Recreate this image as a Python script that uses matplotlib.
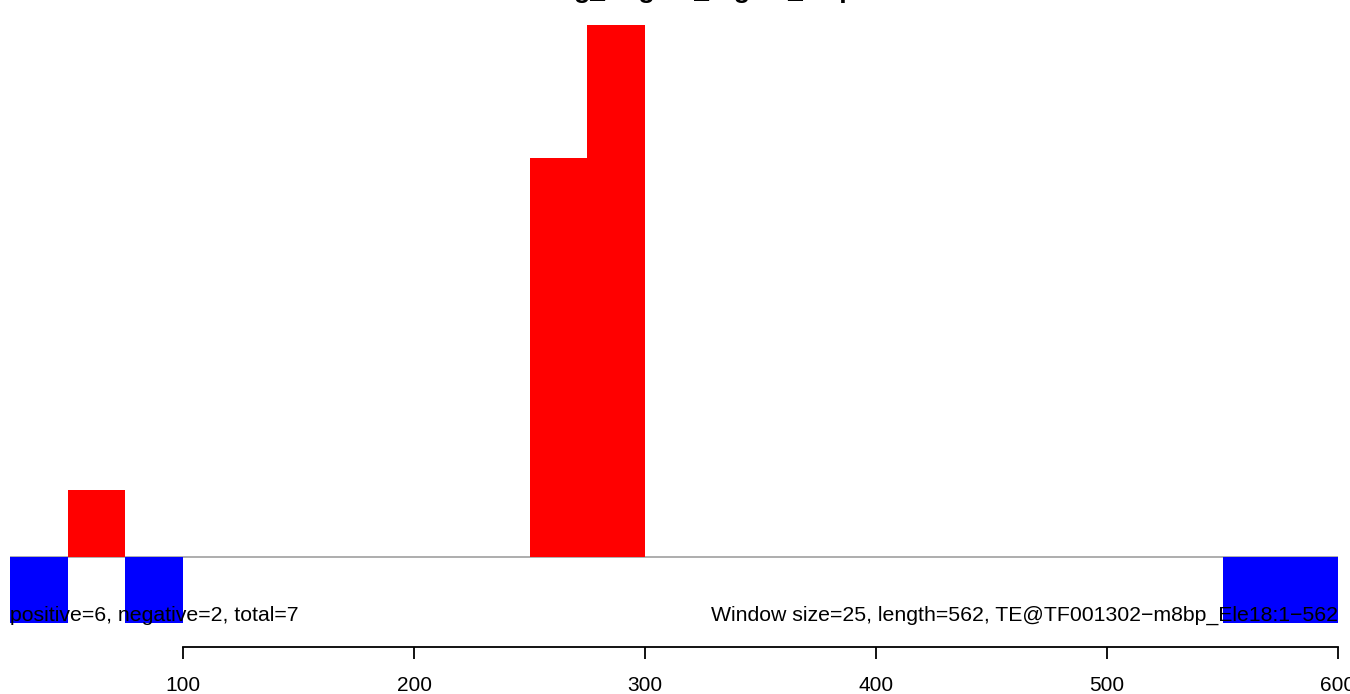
import matplotlib
matplotlib.use("Agg")
import matplotlib.pyplot as plt

plt.rcParams['font.family'] = ['Liberation Sans', 'DejaVu Sans']

window = 25
pos_starts = [50, 250, 275]
pos_values = [1, 6, 8]
neg_starts = [25, 75, 550, 575]
neg_values = [1, 1, 1, 1]
xticks = [100, 200, 300, 400, 500, 600]
title = "Binding_Region_Signal_Map"
left_text = "positive=6, negative=2, total=7"
right_text = "Window size=25, length=562, TE@TF001302\u2212m8bp_Ele18:1\u2212562"

fig = plt.figure(figsize=(13.5, 6.94), dpi=100)
ax = fig.add_axes([10/1350, (694-623)/694, 1328/1350, 598/694])
ax.set_xlim(25, 600)
ax.set_ylim(-1, 8)

ax.plot([25, 600], [0, 0], color='#a0a0a0', lw=1.2, zorder=1)
ax.bar(pos_starts, pos_values, width=window, align='edge', color='#ff0000', linewidth=0, zorder=2)
ax.bar(neg_starts, [-v for v in neg_values], width=window, align='edge', color='#0000ff', linewidth=0, zorder=2)

ax.text(25, -0.97, left_text, ha='left', va='baseline', fontsize=15.3, zorder=3)
ax.text(600, -0.97, right_text, ha='right', va='baseline', fontsize=15.3, zorder=3)

for s in ['top', 'right', 'left']:
    ax.spines[s].set_visible(False)
ax.set_yticks([])
ax.spines['bottom'].set_position(('outward', 17.3))
ax.spines['bottom'].set_bounds(100, 600)
ax.spines['bottom'].set_linewidth(1.3)
ax.set_xticks(xticks)
ax.set_xticklabels([str(t) for t in xticks])
ax.tick_params(axis='x', length=8.6, width=1.3, labelsize=15, pad=12)
for lab in ax.get_xticklabels():
    lab.set_clip_on(False)

fig.text(674/1350, 1 + 1.5/694, title, ha='center', va='baseline', fontsize=19, fontweight='bold')

fig.savefig("out.png", dpi=100)
